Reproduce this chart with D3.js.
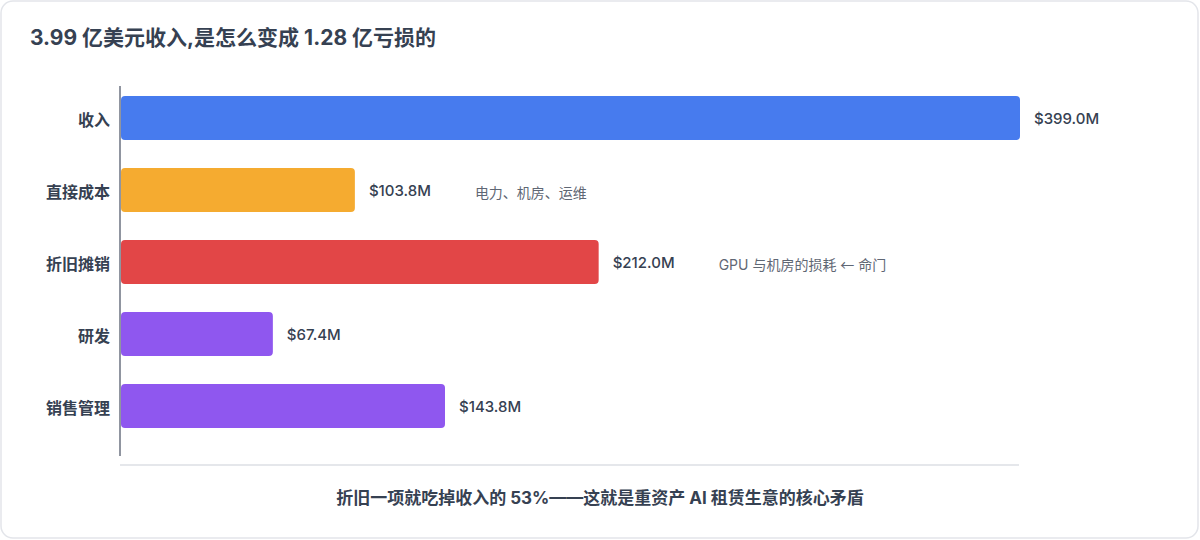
<!DOCTYPE html>
<html><head><meta charset="utf-8">
<script src="https://cdn.jsdelivr.net/npm/d3@7"></script>
<style>
html,body{margin:0;padding:0;background:#fff;}
svg{display:block;font-family:Inter,"Noto Sans CJK SC",sans-serif;}
</style></head>
<body>
<svg id="c" width="1200" height="540"></svg>
<script>
const categories = ["收入","直接成本","折旧摊销","研发","销售管理"];
const values = [399.0, 103.8, 212.0, 67.4, 143.8];
const valueLabels = ["$399.0M","$103.8M","$212.0M","$67.4M","$143.8M"];
const notes = ["", "电力、机房、运维", "GPU 与机房的损耗 ← 命门", "", ""];
const colors = ["#477bee","#f5ab30","#e24647","#8f57ef","#8f57ef"];
const title = "3.99 亿美元收入,是怎么变成 1.28 亿亏损的";
const footer = "折旧一项就吃掉收入的 53%——这就是重资产 AI 租赁生意的核心矛盾";

const svg = d3.select("#c");
svg.append("rect").attr("x",1).attr("y",1).attr("width",1197).attr("height",537)
  .attr("rx",12).attr("fill","#fff").attr("stroke","#e3e5ea").attr("stroke-width",1.5);

svg.append("text").attr("x",30).attr("y",45).text(title)
  .attr("font-size",21).attr("font-weight",700).attr("fill","#364152");

const x = d3.scaleLinear().domain([0,399]).range([121,1020]);
const y = d3.scaleBand().domain(categories).range([68,456]).padding(0.3889);

svg.append("line").attr("x1",120).attr("x2",1019).attr("y1",465).attr("y2",465)
  .attr("stroke","#e5e7eb").attr("stroke-width",2);

const g = svg.append("g");
categories.forEach((c,i)=>{
  const y0 = y(c), bw = y.bandwidth(), cy = y0 + bw/2;
  g.append("rect").attr("x",x(0)).attr("y",y0).attr("width",x(values[i])-x(0)).attr("height",bw)
    .attr("rx",4).attr("fill",colors[i]);
  g.append("text").attr("x",x(values[i])+14).attr("y",cy+6)
    .text(valueLabels[i]).attr("font-size",15).attr("font-weight",500).attr("fill","#364152");
  if (notes[i]) {
    const t = g.append("text").attr("x",x(values[i])+120).attr("y",cy+7.5)
      .attr("font-size",14).attr("fill","#5f6774");
    notes[i].split(/(←)/).forEach(part=>{
      if (!part) return;
      const ts = t.append("tspan").text(part);
      if (part === "←") ts.attr("font-family","'Noto Sans CJK SC'");
    });
  }
  g.append("text").attr("x",110).attr("y",cy+8).attr("text-anchor","end")
    .text(c).attr("font-size",16).attr("font-weight",700).attr("fill","#364152");
});

svg.append("line").attr("x1",120).attr("x2",120).attr("y1",86).attr("y2",456)
  .attr("stroke","#6b7280").attr("stroke-width",1.5);

svg.append("text").attr("x",600).attr("y",504).attr("text-anchor","middle").text(footer)
  .attr("font-size",17).attr("font-weight",700).attr("fill","#364152");
</script>
</body></html>
